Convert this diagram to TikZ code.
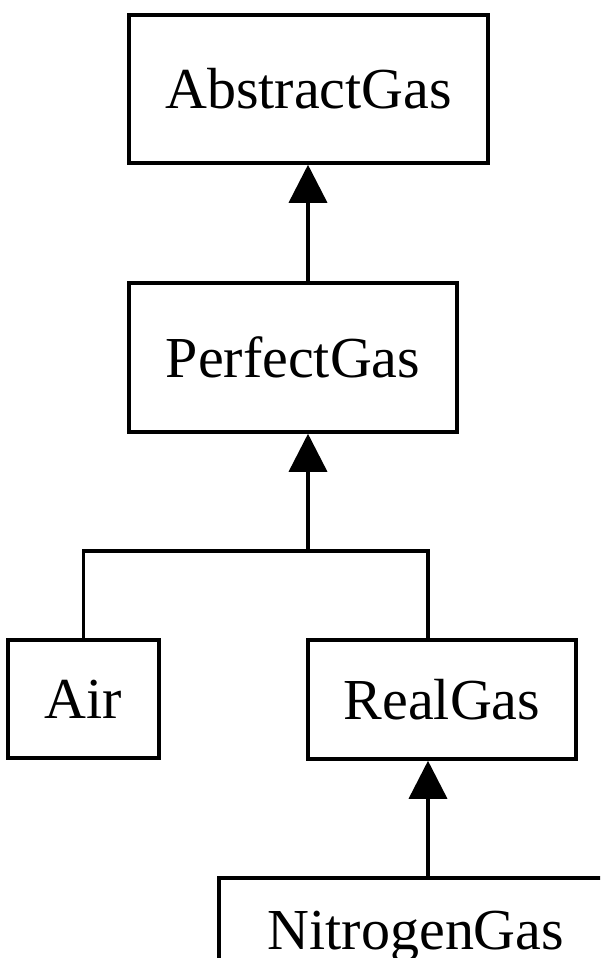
\documentclass[tikz,border=0pt]{standalone}
\usepackage{fontspec}
\setmainfont{Liberation Serif}
\usepackage{tikz}
\usetikzlibrary{arrows.meta,calc}

\begin{document}
\begin{tikzpicture}[every node/.style={draw,line width=2pt,font=\fontsize{33}{40}\selectfont,inner sep=0pt},line width=2pt,>={Triangle[length=0.76cm,width=0.76cm]}]
    \clip (0,0) rectangle (12,-19.16);
    \node[minimum width=7.18cm,minimum height=2.96cm] (abstract) at (6.17,-1.78) {AbstractGas};
    \node[minimum width=6.56cm,minimum height=2.98cm] (perfect) at (5.86,-7.15) {PerfectGas};
    \node[minimum width=3.02cm,minimum height=2.36cm] (air) at (1.67,-13.98) {Air};
    \node[minimum width=5.36cm,minimum height=2.38cm] (realgas) at (8.84,-13.99) {RealGas};
    \node[minimum width=7.88cm,minimum height=2.36cm] (nitrogen) at (8.32,-18.74) {NitrogenGas};
    \coordinate (fork) at (6.16,-11.02);
    \coordinate (split) at (8.56,-11.02);
    \draw[->] (perfect.north -| fork) -- (fork |- abstract.south);
    \draw[->] (fork) -- (fork |- perfect.south);
    \draw (air.north) |- (split) -- (split |- realgas.north);
    \draw[->] (split |- nitrogen.north) -- (split |- realgas.south);
  \end{tikzpicture}
\end{document}
